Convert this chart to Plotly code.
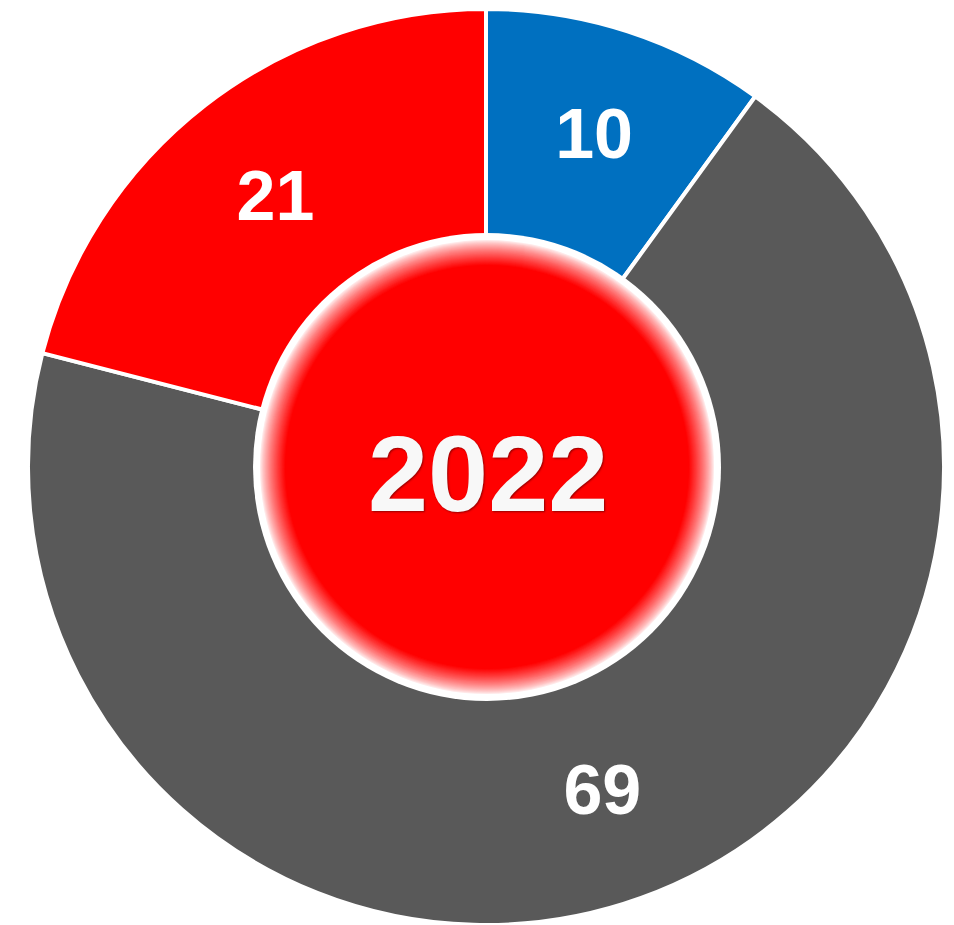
import plotly.graph_objects as go

# Data
categories = ["A", "B", "C"]
values = [10, 69, 21]
colors = ["#0070C0", "#595959", "#FF0000"]
center_label = "2022"

OFF = 8  # default page body margin
W, H = 954 - OFF, 925 - OFF
cx, cy, R = 486 - OFF, 467 - OFF, 459  # donut centre / radius in figure pixels
R = min(R, cy, H - cy)

fig = go.Figure()
fig.add_trace(go.Pie(
    labels=categories,
    values=values,
    sort=False,
    direction="clockwise",
    rotation=0,
    hole=0.5,
    marker=dict(colors=colors, line=dict(color="white", width=4)),
    texttemplate="<b>%{value}</b>",
    textposition="inside",
    insidetextorientation="horizontal",
    textfont=dict(family="Arial, Liberation Sans, sans-serif", size=70, color="white"),
    showlegend=False,
    hoverinfo="label+value",
    domain=dict(x=[(cx - R) / W, (cx + R) / W], y=[(H - cy - R) / H, (H - cy + R) / H]),
))

# centre disc with soft white rim
rc = 234
rcx, rcy = 487 - OFF, 467 - OFF
shapes = []
steps = 34
for i in range(steps + 1):
    r = rc - i
    if i <= 6:
        t = 0.0
    else:
        t = min(1.0, (i - 6) / 26.0)
    t = t ** 0.75
    g = int(round(255 * (1 - t)))
    col = f"rgb(255,{g},{g})"
    shapes.append(dict(
        type="circle", xref="paper", yref="paper", layer="above",
        x0=(rcx - r) / W, x1=(rcx + r) / W,
        y0=(H - rcy - r) / H, y1=(H - rcy + r) / H,
        fillcolor=col, line=dict(width=0),
    ))

fig.update_layout(
    width=W, height=H,
    margin=dict(l=0, r=0, t=0, b=0),
    paper_bgcolor="white",
    plot_bgcolor="white",
    shapes=shapes,
    annotations=[dict(
        text="<b>" + center_label + "</b>",
        x=(rcx + 1) / W, y=(H - (473 - OFF)) / H, xref="paper", yref="paper",
        showarrow=False, xanchor="center", yanchor="middle",
        font=dict(family="Arial, Liberation Sans, sans-serif", size=108, color="#F8F8F8",
                  shadow="1px 1px 2px rgba(80,0,0,0.6)"),
    )],
)

fig.write_html("out.html")
